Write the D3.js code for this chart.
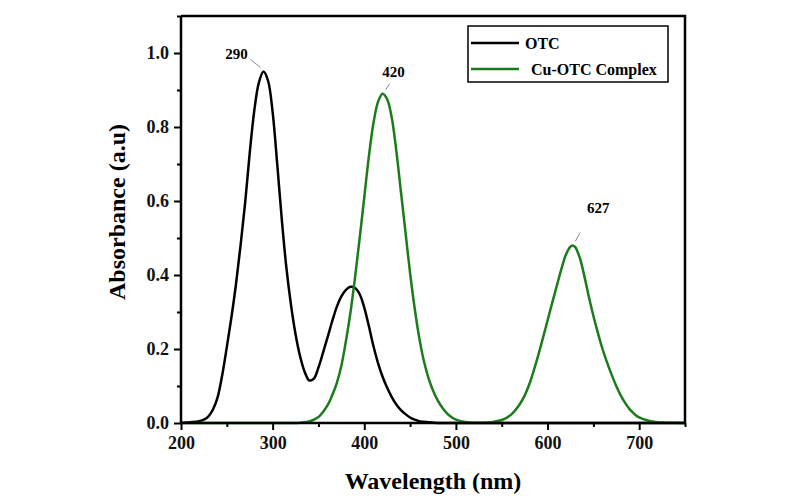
<!DOCTYPE html>
<html lang='en'>
	<head>
		<title>OTC / Cu-OTC absorbance</title>
		<script type='text/javascript' src='https://cdn.jsdelivr.net/npm/d3@7'></script>
		<style>
			body { margin: 0; background: #fff; }
			text { font-family: 'Liberation Serif', 'Times New Roman', serif; font-weight: bold; }
		</style>
	</head>
	<body>
		<script type='text/javascript'>
			// OTC spectrum (black)
			var otc_wl = [200,210,220,225,230,235,240,245,250,255,260,265,270,275,280,285,290,295,300,305,310,315,320,325,330,335,340,345,350,355,360,365,370,375,380,385,390,395,400,405,410,415,420,425,430,435,440,445,450,455,460,470,480,500,550,600,650,700,750]
			var otc_abs = [0,0.002,0.005,0.009,0.018,0.037,0.07,0.13,0.205,0.285,0.375,0.48,0.595,0.73,0.845,0.92,0.95,0.925,0.84,0.70,0.55,0.42,0.32,0.24,0.18,0.138,0.115,0.12,0.15,0.19,0.232,0.275,0.314,0.342,0.36,0.368,0.365,0.348,0.312,0.262,0.208,0.162,0.125,0.095,0.07,0.05,0.035,0.024,0.015,0.009,0.005,0.002,0,0,0,0,0,0,0]

			// Cu-OTC complex spectrum (green)
			var cu_wl = [200,250,300,330,340,350,355,360,365,370,375,380,385,390,395,400,405,410,415,420,425,430,435,440,445,450,455,460,465,470,475,480,485,490,495,500,510,520,530,540,550,560,570,575,580,585,590,595,600,605,610,615,620,625,627,630,635,640,645,650,655,660,665,670,675,680,685,690,695,700,710,720,730,750]
			var cu_abs = [0,0,0,0.001,0.004,0.016,0.03,0.048,0.075,0.108,0.155,0.222,0.30,0.395,0.50,0.61,0.72,0.81,0.868,0.89,0.875,0.825,0.735,0.625,0.515,0.405,0.31,0.23,0.168,0.122,0.088,0.062,0.042,0.027,0.016,0.009,0.003,0.001,0.001,0.003,0.008,0.022,0.052,0.074,0.104,0.142,0.184,0.23,0.277,0.324,0.37,0.415,0.455,0.477,0.48,0.476,0.448,0.399,0.342,0.29,0.243,0.20,0.163,0.13,0.10,0.074,0.053,0.036,0.024,0.015,0.006,0.002,0.001,0]

			var x_ticks = [200,300,400,500,600,700]
			var x_minor = [250,350,450,550,650,750]
			var y_ticks = [0,0.2,0.4,0.6,0.8,1.0]
			var y_minor = [0.1,0.3,0.5,0.7,0.9,1.1]

			var peak_labels = [['290',290,0.95],['420',420,0.89],['627',627,0.48]]
			var series_names = ['OTC','Cu-OTC Complex']
			var series_colors = ['#000000','#1c7c1c']

			var width = 800, height = 500
			var p_left = 181, p_right = 685, p_top = 16, p_bottom = 423
			var svg = d3.select('body').append('svg').attr('width', width).attr('height', height)

			var x = d3.scaleLinear().domain([200,750]).range([p_left,p_right])
			var y = d3.scaleLinear().domain([0,1.1]).range([p_bottom,p_top])

			// frame: top and right
			svg.append('path').attr('d', 'M' + p_left + ',' + p_top + 'H' + p_right + 'V' + p_bottom)
				.attr('fill','none').attr('stroke','#000').attr('stroke-width',2.5)

			var line = d3.line().x(d => x(d[0])).y(d => y(Math.max(0, d[1]))).curve(d3.curveCatmullRom.alpha(0.5))
			var otc = otc_wl.map((w,i) => [w, otc_abs[i]])
			var cu = cu_wl.map((w,i) => [w, cu_abs[i]])

			svg.append('path').datum(otc).attr('d', line).attr('fill','none')
				.attr('stroke', series_colors[0]).attr('stroke-width',2.5)
			svg.append('path').datum(cu).attr('d', line).attr('fill','none')
				.attr('stroke', series_colors[1]).attr('stroke-width',2.5)

			// axes
			var gx = svg.append('g').attr('transform','translate(0,' + p_bottom + ')')
			gx.call(d3.axisBottom(x).tickValues(x_ticks).tickSize(7).tickPadding(6).tickFormat(d3.format('d')))
			gx.append('g').call(d3.axisBottom(x).tickValues(x_minor).tickSize(4).tickFormat(''))
			var gy = svg.append('g').attr('transform','translate(' + p_left + ',0)')
			gy.call(d3.axisLeft(y).tickValues(y_ticks).tickSize(7).tickPadding(5).tickFormat(d3.format('.1f')))
			gy.append('g').call(d3.axisLeft(y).tickValues(y_minor).tickSize(4).tickFormat(''))

			gx.selectAll('g g .domain').remove()
			gy.selectAll('g g .domain').remove()
			gx.select('.domain').attr('d', 'M' + p_left + ',0H' + p_right).attr('stroke-width',2.5)
			gy.select('.domain').attr('d', 'M0,' + p_top + 'V' + p_bottom).attr('stroke-width',2.5)
			svg.selectAll('.tick line').attr('stroke-width',2)
			svg.selectAll('.tick text').attr('font-size',18).attr('fill','#111')
				.style('font-family',"'Liberation Serif', serif").style('font-weight','bold')

			// axis titles
			svg.append('text').attr('x', (p_left+p_right)/2).attr('y', 489).attr('text-anchor','middle')
				.attr('font-size',24).text('Wavelength (nm)')
			svg.append('text').attr('transform','translate(125,212) rotate(-90)')
				.attr('text-anchor','middle').attr('font-size',24).text('Absorbance (a.u)')

			// peak labels with leader lines
			var offsets = [[-13,-12,-27,-13],[7,-10,11,-17],[8,-13,26,-32]]
			peak_labels.forEach(function(p, i) {
				var px = x(p[1]), py = y(p[2]), o = offsets[i]
				svg.append('line').attr('x1', px + (i==0 ? -3 : 3)).attr('y1', py - 4)
					.attr('x2', px + o[0]).attr('y2', py + o[1])
					.attr('stroke','#888').attr('stroke-width',1)
				svg.append('text').attr('x', px + o[2]).attr('y', py + o[3]).attr('text-anchor','middle')
					.attr('font-size',15).text(p[0])
			})

			// legend
			var lg = svg.append('g')
			lg.append('rect').attr('x',468).attr('y',26).attr('width',200).attr('height',56)
				.attr('fill','#fff').attr('stroke','#000').attr('stroke-width',1.5)
			series_names.forEach(function(n, i) {
				var ly = 43 + i*26
				lg.append('line').attr('x1',471).attr('x2',519).attr('y1',ly).attr('y2',ly)
					.attr('stroke',series_colors[i]).attr('stroke-width',2.5)
				lg.append('text').attr('x', i==0 ? 525 : 531).attr('y', ly+6).attr('font-size',16).text(n)
			})
		</script>
	</body>
</html>
